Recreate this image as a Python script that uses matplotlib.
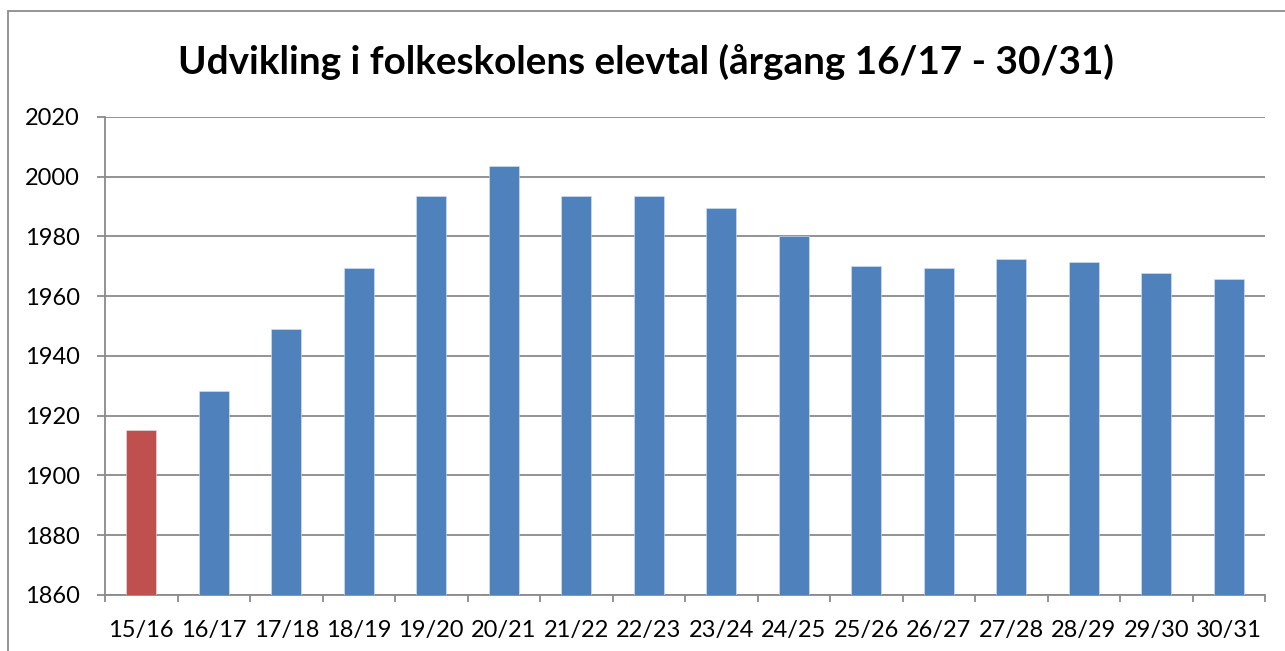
import matplotlib.pyplot as plt
from matplotlib.patches import Rectangle

# school years and pupil numbers
years = ["15/16", "16/17", "17/18", "18/19", "19/20", "20/21", "21/22", "22/23",
         "23/24", "24/25", "25/26", "26/27", "27/28", "28/29", "29/30", "30/31"]
pupils = [1915.2, 1928.3, 1949.0, 1969.4, 1993.6, 2003.5, 1993.7, 1993.7,
          1989.4, 1980.2, 1970.0, 1969.5, 1972.4, 1971.5, 1967.9, 1965.9]
bar_colors = ["#C0504D"] + ["#4F81BD"] * (len(years) - 1)
y_ticks = list(range(1860, 2021, 20))

plt.rcParams["font.family"] = ["Lato", "DejaVu Sans"]
GRID = "#8a8a8a"

fig = plt.figure(figsize=(12.85, 6.51), dpi=100)
ax = fig.add_axes([105 / 1285, 1 - 595 / 651, (1265 - 105) / 1285, (595 - 117) / 651])

x = list(range(len(years)))
ax.bar(x, [p - 1860 for p in pupils], bottom=1860, width=0.41, color=bar_colors,
       edgecolor="#dbe4f0", linewidth=0.4, zorder=3)

ax.set_ylim(1860, 2020)
ax.set_xlim(-0.5, len(years) - 0.5)
ax.set_yticks(y_ticks)
ax.set_xticks(x)
ax.set_xticklabels(years)
ax.set_xticks([i - 0.5 for i in range(len(years) + 1)], minor=True)

ax.grid(axis="y", color=GRID, lw=1.3, zorder=0)
for s in ("top", "right"):
    ax.spines[s].set_visible(False)
for s in ("left", "bottom"):
    ax.spines[s].set_color(GRID)
    ax.spines[s].set_linewidth(1.3)

ax.tick_params(axis="y", length=6, width=1.3, color=GRID, pad=12, labelsize=17)
ax.tick_params(axis="x", which="major", length=0, pad=18, labelsize=17)
ax.tick_params(axis="x", which="minor", length=5, width=1.3, color=GRID)

fig.text(646 / 1285, 1 - 62 / 651, "Udvikling i folkeskolens elevtal (årgang 16/17 - 30/31)",
         ha="center", va="center", fontsize=27.8, fontweight="bold")

# chart frame, cut off on the right and bottom
fig.patches.append(Rectangle((8 / 1285, -0.1), 1.2, 1.1 - 11 / 651,
                             transform=fig.transFigure, fill=False,
                             edgecolor="#8c8c8c", lw=1.3))

fig.savefig("out.png", dpi=100)
